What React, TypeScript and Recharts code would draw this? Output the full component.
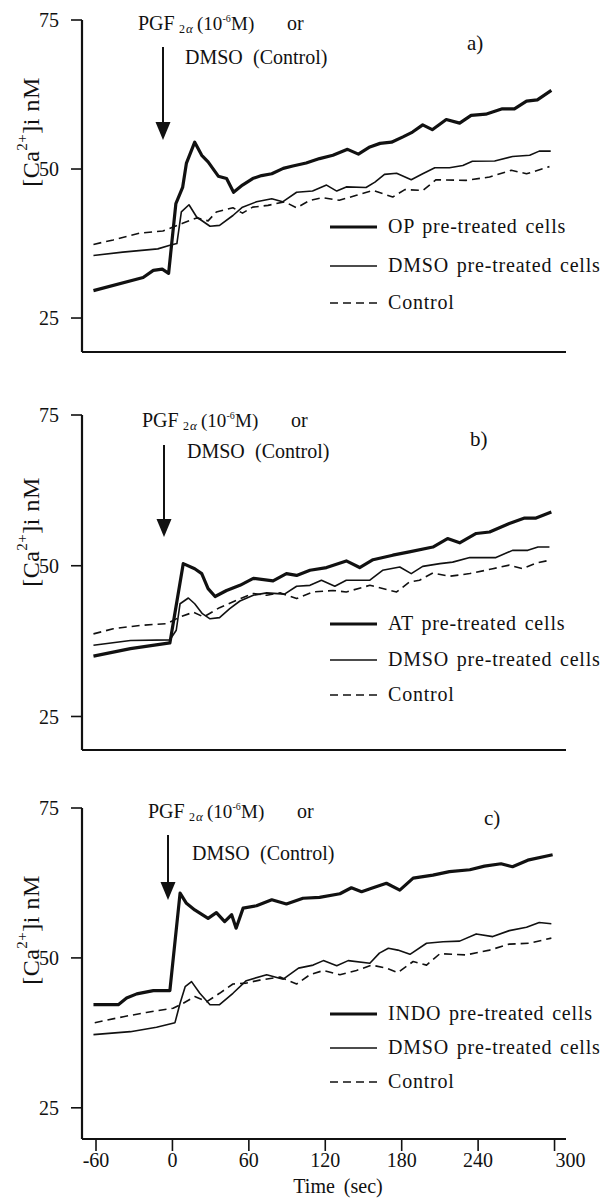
import React from 'react';
import { LineChart, Line, XAxis, YAxis } from 'recharts';

type Pt = [number, number];

const FONT = "'Liberation Serif', 'Times New Roman', serif";
const INK = '#111';

const xTicks = [-60, 0, 60, 120, 180, 240, 300];
const yTicks = [25, 50, 75];

// panel a) OP
const opA: Pt[] = [
  [-62, 29.6], [-23, 31.8], [-15, 33.0], [-8, 33.2], [-3, 32.5], [2.7, 44.2], [8, 46.9], [11, 51.0],
  [17.5, 54.5], [23, 52.3], [28, 51.2], [36, 48.8], [42.5, 48.4], [48, 46.1], [55, 47.3], [63, 48.4],
  [70, 48.9], [78, 49.2], [87, 50.1], [94.5, 50.5], [105, 51.0], [115.5, 51.75], [126, 52.3], [137.5, 53.3],
  [146, 52.5], [155, 53.7], [163, 54.3], [172, 54.5], [181, 55.4], [188.5, 56.2], [196.5, 57.4], [204, 56.6],
  [215, 58.3], [225.5, 57.7], [234.5, 59.0], [246, 59.2], [259, 60.1], [268.5, 60.1], [278, 61.4],
  [286.5, 61.6], [297.5, 63.2],
];
const dmsoA: Pt[] = [
  [-62, 35.5], [-39, 36.05], [-11.5, 36.6], [-2, 37.2], [3.5, 37.5], [7, 42.8], [13, 44.0], [19, 41.95],
  [29.5, 40.4], [37, 40.55], [47.5, 42.2], [55, 43.6], [66, 44.5], [78, 45.0], [86.5, 44.5], [97.5, 46.1],
  [110, 46.3], [121, 47.3], [129, 46.3], [136.5, 47.0], [152, 46.9], [159, 47.8], [166.5, 49.1], [176, 49.3],
  [187.5, 48.2], [196.5, 49.2], [206, 50.2], [217.5, 50.2], [228, 50.6], [235.5, 51.3], [253, 51.35],
  [267, 52.1], [280.5, 52.3], [288, 53.0], [297, 53.0],
];
const ctrlA: Pt[] = [
  [-62, 37.35], [-46.5, 38.1], [-25.5, 39.25], [-7.5, 39.6], [8, 40.9], [19, 41.8], [28, 41.3], [34.5, 42.8],
  [47.5, 43.5], [55, 42.6], [63, 43.6], [75, 43.9], [88, 44.5], [97.5, 43.5], [108, 44.75], [118, 45.2],
  [131, 44.75], [144.5, 45.6], [157.5, 46.4], [173, 45.3], [182.5, 46.55], [196.5, 46.4], [207, 48.2],
  [230.5, 48.1], [249, 48.65], [266, 49.8], [278, 49.2], [296, 50.4],
];

// panel b) AT
const atB: Pt[] = [
  [-62, 35.0], [-33, 36.25], [-2, 37.2], [8.5, 50.35], [17.5, 49.5], [23, 48.7], [28, 46.2], [33.5, 44.9],
  [42.5, 45.9], [53, 46.75], [63.5, 47.9], [79, 47.5], [89.5, 48.7], [97.5, 48.4], [108, 49.25], [121, 49.7],
  [136.5, 50.8], [147, 49.7], [157.5, 51.0], [173, 51.75], [186, 52.3], [204.5, 53.1], [216, 54.5],
  [225.5, 53.8], [238.5, 55.35], [249, 55.6], [264.5, 57.0], [276.5, 57.9], [285.5, 57.9], [297.5, 58.9],
];
const dmsoB: Pt[] = [
  [-62, 36.8], [-33, 37.6], [-2, 37.7], [3, 39.3], [6, 43.7], [12.5, 44.65], [17.5, 43.7], [23.5, 42.05],
  [29.5, 41.2], [37, 41.4], [45, 42.9], [53, 44.15], [63.5, 45.1], [74, 45.5], [88, 45.3], [97.5, 46.6],
  [108, 46.75], [117, 47.6], [127.5, 46.6], [136.5, 47.6], [155, 47.6], [165, 49.25], [178.5, 49.8],
  [187.5, 48.7], [196.5, 49.9], [210, 50.35], [220, 50.6], [233.5, 51.35], [254, 51.35], [267, 52.55],
  [279, 52.55], [287, 53.1], [296, 53.1],
];
const ctrlB: Pt[] = [
  [-62, 38.7], [-46.5, 39.55], [-25.5, 40.1], [-4.5, 40.4], [6, 41.5], [16.5, 42.3], [24.5, 41.5], [37, 43.05],
  [50.5, 44.3], [63.5, 45.4], [74, 45.1], [84.5, 45.5], [97.5, 44.55], [110.5, 45.65], [126, 45.9],
  [136.5, 45.65], [155, 46.75], [176, 45.65], [186, 47.3], [194, 47.6], [204.5, 48.8], [217.5, 48.25],
  [233.5, 48.7], [251.5, 49.5], [264.5, 50.1], [275, 49.5], [285.5, 50.45], [296, 50.9],
];

// panel c) INDO
const indoC: Pt[] = [
  [-62, 42.2], [-42.5, 42.2], [-36, 43.3], [-28, 44.0], [-15, 44.55], [-2, 44.55], [6, 60.8], [11, 59.1],
  [17.5, 58.0], [28, 56.6], [34.5, 57.55], [41, 56.05], [46.5, 57.2], [50, 54.95], [55.5, 58.3], [66, 58.7],
  [78, 59.7], [89.5, 59.0], [102.5, 59.95], [115.5, 60.1], [131.5, 60.7], [140.5, 61.7], [148.5, 61.05],
  [157.5, 61.7], [168, 62.45], [178.5, 61.3], [189, 63.3], [204.5, 63.8], [217.5, 64.4], [233.5, 64.7],
  [245, 65.3], [258, 65.7], [267, 65.2], [279, 66.3], [298.5, 67.2],
];
const dmsoC: Pt[] = [
  [-62, 37.2], [-33, 37.7], [-12.5, 38.45], [2, 39.2], [6, 42.45], [10, 45.2], [15, 46.05], [21.5, 44.1],
  [29.5, 42.2], [37, 42.2], [47.5, 44.1], [58, 46.2], [74, 47.2], [87, 46.45], [99, 48.3], [110.5, 48.8],
  [118.5, 49.55], [129, 48.7], [138, 49.55], [155, 49.1], [162.5, 50.8], [169.5, 51.6], [177, 51.3],
  [186.5, 50.6], [199.5, 52.45], [212.5, 52.7], [225.5, 52.8], [238.5, 54.0], [251.5, 53.55], [264.5, 54.55],
  [278, 55.1], [288, 55.9], [297.5, 55.7],
];
const ctrlC: Pt[] = [
  [-61, 39.2], [-38.5, 40.2], [-20.5, 40.9], [0.5, 41.6], [8.5, 42.45], [17.5, 43.55], [27, 42.7], [37, 44.1],
  [47.5, 45.65], [58, 45.8], [68.5, 46.3], [84.5, 46.8], [97.5, 45.65], [108, 47.2], [118.5, 47.9],
  [131.5, 47.2], [144.5, 47.9], [156.5, 48.8], [168, 48.3], [177, 47.55], [189, 49.4], [199.5, 48.8],
  [210, 50.7], [230.5, 50.5], [249, 51.3], [264.5, 52.3], [280.5, 52.45], [297.5, 53.3],
];

const rows = (pts: Pt[]) => pts.map(([t, v]) => ({ t, v }));

type Series = { name: string; pts: Pt[]; width: number; dash?: string };

type PanelProps = {
  top: number;
  height: number;
  plotH: number;
  yMin: number;
  series: Series[];
  letter: string;
  letterPos: [number, number];
  pgfX: number; pgfY: number;
  dmsoX: number; dmsoY: number;
  arrowX: number; arrowTop: number; arrowTip: number;
  legendY: number[];
  yLabelY: number;
  last?: boolean;
};

const TimeTick = (props: any) => {
  const { x, y, payload } = props;
  const dx = payload.value === 300 ? 16 : 0;
  return (
    <text x={x + dx} y={y} dy="0.71em" textAnchor="middle" fontSize={20} fill={INK} fontFamily={FONT}>
      {payload.value}
    </text>
  );
};

function Panel(p: PanelProps) {
  const xAxisH = p.last ? 40 : 30;
  const bottom = p.height - 20 - p.plotH - xAxisH;
  const r = (y: number) => y - p.top; // page y -> local y
  const headLen = 18;
  const by = r(p.pgfY);
  return (
    <div style={{ position: 'absolute', left: 0, top: p.top, width: 609, height: p.height }}>
      <LineChart width={609} height={p.height} margin={{ top: 20, right: 43, bottom, left: 22 }}>
        <XAxis
          dataKey="t"
          type="number"
          domain={[-71, 309]}
          allowDataOverflow
          ticks={xTicks}
          height={xAxisH}
          axisLine={{ stroke: INK, strokeWidth: 2.2 }}
          tickLine={{ stroke: INK, strokeWidth: 1.6 }}
          tickSize={12}
          tick={p.last ? <TimeTick /> : false}
        />
        <YAxis
          type="number"
          domain={[p.yMin, 75]}
          allowDataOverflow
          ticks={yTicks}
          width={60}
          axisLine={{ stroke: INK, strokeWidth: 2.2 }}
          tickLine={{ stroke: INK, strokeWidth: 1.6 }}
          tickSize={11}
          tickMargin={12}
          tick={{ fontSize: 20, fill: INK, fontFamily: FONT }}
        />
        {p.series.map((s) => (
          <Line
            key={s.name}
            data={rows(s.pts)}
            dataKey="v"
            type="linear"
            stroke={INK}
            strokeWidth={s.width}
            strokeDasharray={s.dash}
            strokeLinejoin="round"
            dot={false}
            activeDot={false}
            isAnimationActive={false}
          />
        ))}
      </LineChart>
      <svg
        width={609}
        height={p.height}
        style={{ position: 'absolute', left: 0, top: 0, pointerEvents: 'none' }}
        fontFamily={FONT}
        fill={INK}
      >
        {/* y label */}
        <text
          transform={`translate(31, ${r(p.yLabelY)}) rotate(-90)`}
          textAnchor="middle"
          dominantBaseline="central"
          fontSize={24}
          letterSpacing={0.5}
        >
          [Ca<tspan fontSize={15} dy={-9}>2+</tspan><tspan dy={9}>]i nM</tspan>
        </text>

        {/* stimulus note */}
        <text x={p.pgfX} y={by} fontSize={20}>PGF</text>
        <text x={p.pgfX + 41} y={by + 3} fontSize={12}>2</text>
        <text x={p.pgfX + 48} y={by + 3} fontSize={13} fontStyle="italic">α</text>
        <text x={p.pgfX + 59} y={by} fontSize={19}>(10</text>
        <text x={p.pgfX + 84.5} y={by - 8} fontSize={10}>-6</text>
        <text x={p.pgfX + 93} y={by} fontSize={19}>M)</text>
        <text x={p.pgfX + 149} y={by} fontSize={20}>or</text>

        <text x={p.dmsoX} y={r(p.dmsoY)} fontSize={20}>DMSO</text>
        <text x={p.dmsoX + 68} y={r(p.dmsoY)} fontSize={20}>(Control)</text>

        <line
          x1={p.arrowX}
          x2={p.arrowX}
          y1={r(p.arrowTop)}
          y2={r(p.arrowTip) - headLen + 2}
          stroke={INK}
          strokeWidth={2}
        />
        <polygon
          points={`${p.arrowX - 7.5},${r(p.arrowTip) - headLen} ${p.arrowX + 7.5},${r(p.arrowTip) - headLen} ${p.arrowX},${r(p.arrowTip)}`}
        />
        <text x={p.letterPos[0]} y={r(p.letterPos[1])} fontSize={21}>{p.letter}</text>

        {/* legend */}
        {p.series.map((s, i) => (
          <g key={s.name}>
            <line
              x1={330}
              x2={377}
              y1={r(p.legendY[i])}
              y2={r(p.legendY[i])}
              stroke={INK}
              strokeWidth={s.width}
              strokeDasharray={s.dash}
            />
            <text x={388} y={r(p.legendY[i]) + 6} fontSize={20} letterSpacing={0.8} wordSpacing={2}>
              {s.name}
            </text>
          </g>
        ))}

        {p.last && (
          <text x={338} y={p.height - 10} textAnchor="middle" fontSize={20} wordSpacing={4}>
            Time (sec)
          </text>
        )}
      </svg>
    </div>
  );
}

const THICK = 3.2;
const THIN = 1.6;
const DASH = '8 5';

export default function App() {
  return (
    <div style={{ position: 'absolute', left: 0, top: 0, width: 609, height: 1203, background: '#fff' }}>
      <Panel
        top={0}
        height={390}
        plotH={332}
        yMin={19.3}
        series={[
          { name: 'OP pre-treated cells', pts: opA, width: THICK },
          { name: 'DMSO pre-treated cells', pts: dmsoA, width: THIN },
          { name: 'Control', pts: ctrlA, width: THIN, dash: DASH },
        ]}
        letter="a)"
        letterPos={[467, 50]}
        pgfX={138}
        pgfY={30}
        dmsoX={185}
        dmsoY={64}
        arrowX={163}
        arrowTop={47}
        arrowTip={140}
        legendY={[227, 266, 303]}
        yLabelY={132}
      />
      <Panel
        top={395}
        height={393}
        plotH={335}
        yMin={19.44}
        series={[
          { name: 'AT pre-treated cells', pts: atB, width: THICK },
          { name: 'DMSO pre-treated cells', pts: dmsoB, width: THIN },
          { name: 'Control', pts: ctrlB, width: THIN, dash: DASH },
        ]}
        letter="b)"
        letterPos={[470, 446]}
        pgfX={142}
        pgfY={427}
        dmsoX={187}
        dmsoY={458}
        arrowX={164}
        arrowTop={445}
        arrowTip={537}
        legendY={[624, 660, 695]}
        yLabelY={532}
      />
      <Panel
        top={788}
        height={415}
        plotH={331}
        yMin={19.8}
        series={[
          { name: 'INDO pre-treated cells', pts: indoC, width: THICK },
          { name: 'DMSO pre-treated cells', pts: dmsoC, width: THIN },
          { name: 'Control', pts: ctrlC, width: THIN, dash: DASH },
        ]}
        letter="c)"
        letterPos={[484, 825]}
        pgfX={148}
        pgfY={818}
        dmsoX={192}
        dmsoY={860}
        arrowX={168}
        arrowTop={835}
        arrowTip={900}
        legendY={[1014, 1048, 1082]}
        yLabelY={930}
        last
      />
    </div>
  );
}
